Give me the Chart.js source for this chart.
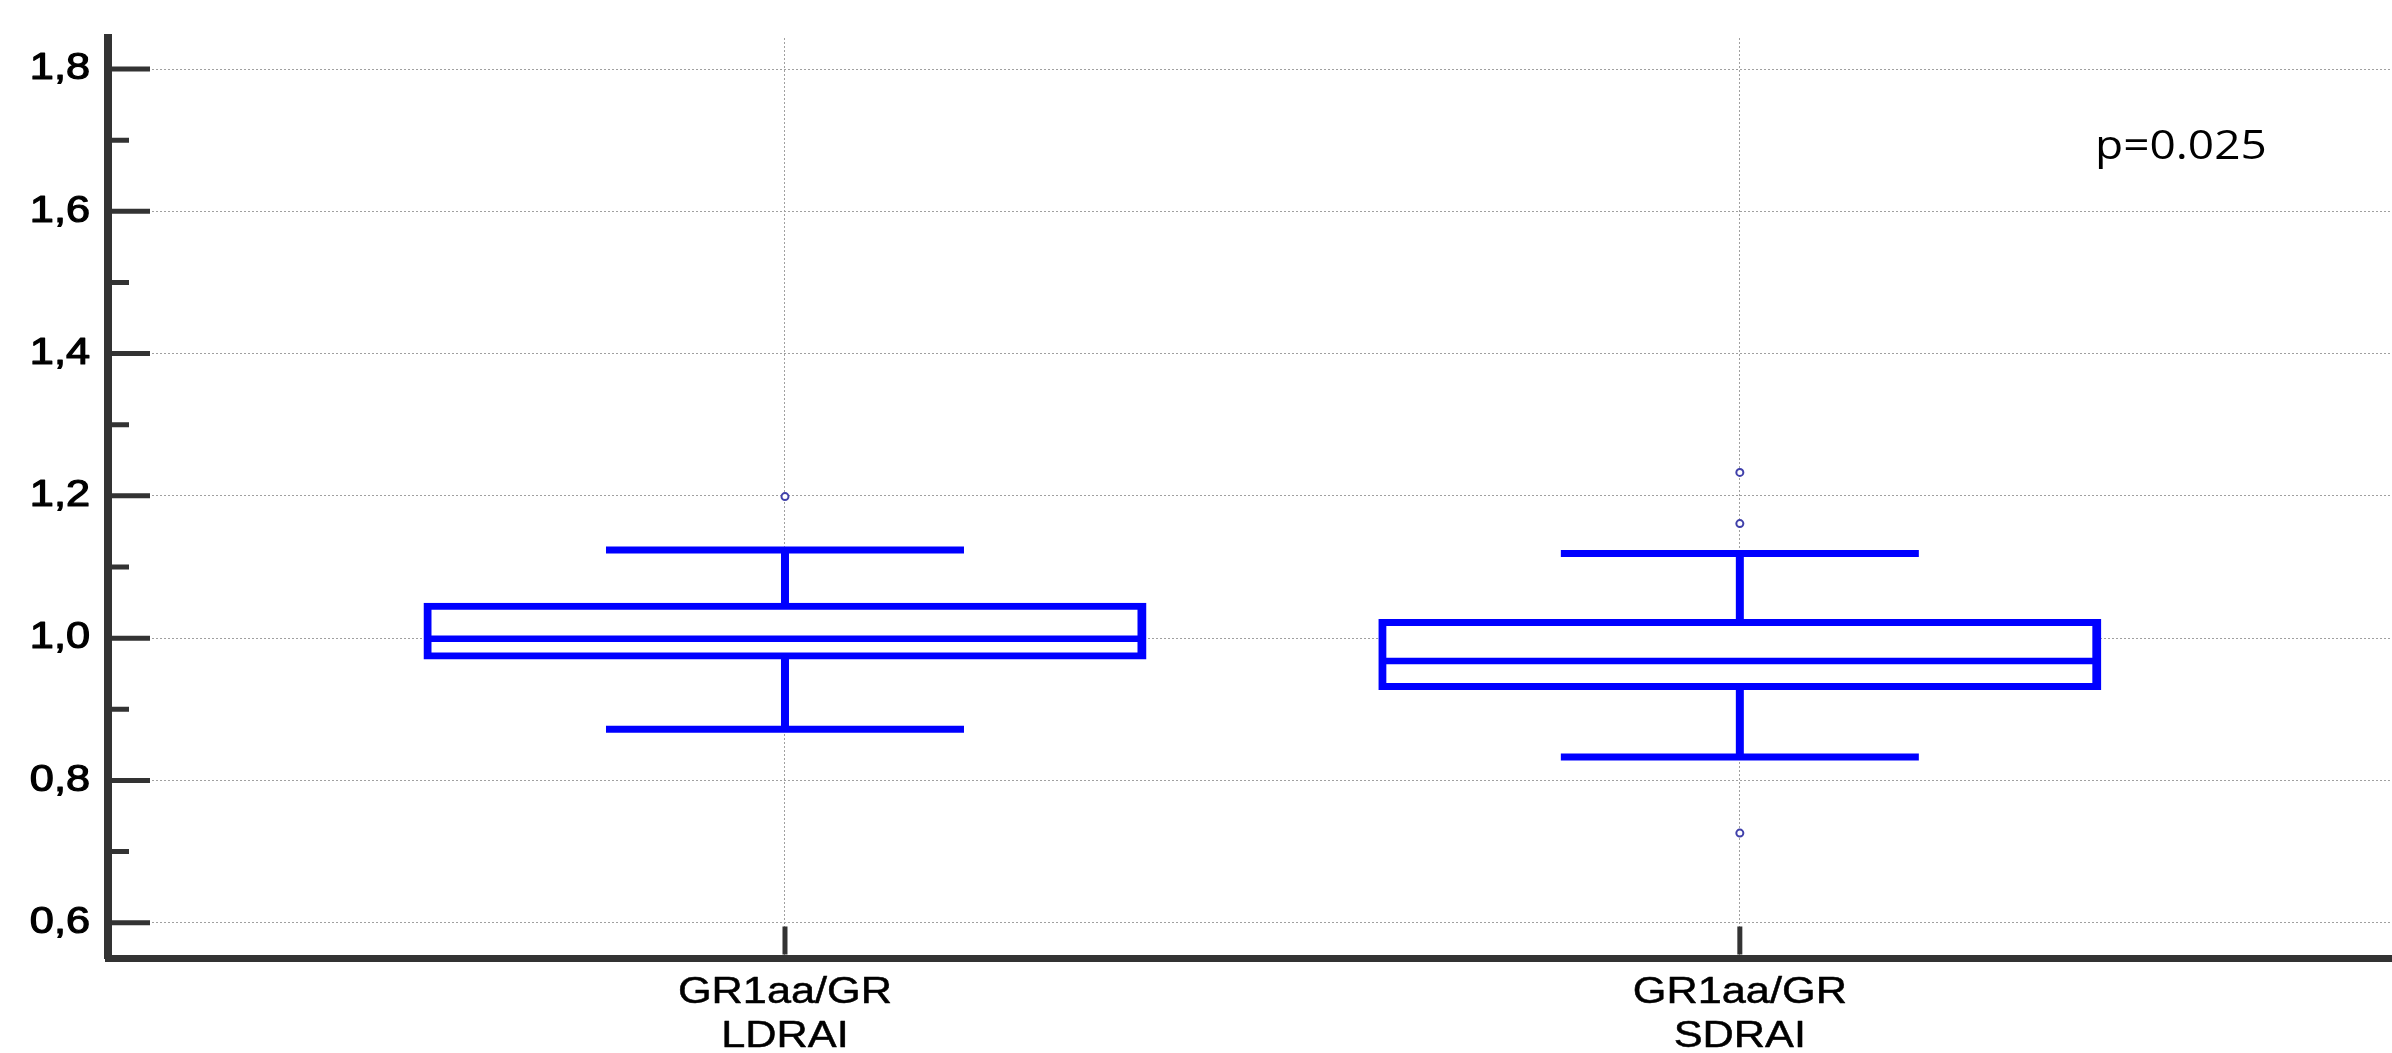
<!DOCTYPE html>
<html>
<head>
<meta charset="utf-8">
<script src="https://cdn.jsdelivr.net/npm/chart.js@4.4.1/dist/chart.umd.min.js"></script>
<style>
  html, body { margin: 0; padding: 0; background: #fff; overflow: hidden; }
  canvas { display: block; }
</style>
</head>
<body>
<canvas id="chart" width="2392" height="1053" style="width:2392px;height:1053px"></canvas>
<script>
// Box-plot summary for each group
const categories = [['GR1aa/GR', 'LDRAI'], ['GR1aa/GR', 'SDRAI']];
const whiskerLow = [0.872, 0.833];
const quartile1 = [0.975, 0.932];
const medians = [0.999, 0.968];
const quartile3 = [1.045, 1.022];
const whiskerHigh = [1.124, 1.119];
const outliers = [[1.199], [1.233, 1.161, 0.726]];

// Value axis
const yTicks = [0.6, 0.8, 1.0, 1.2, 1.4, 1.6, 1.8];
const yTickLabels = ['0,6', '0,8', '1,0', '1,2', '1,4', '1,6', '1,8'];
const yMinorTicks = [0.7, 0.9, 1.1, 1.3, 1.5, 1.7];

const pValueLabel = 'p=0.025';

const BLUE = '#0000ff';
const AXIS = '#333333';
const GRID = '#a0a0a0';

const groupIndex = categories.map((_, i) => i);
const boxData = groupIndex.map(i => ({ x: i, y: [quartile1[i], quartile3[i]] }));
const stemData = groupIndex.map(i => ({ x: i, y: [whiskerLow[i], whiskerHigh[i]] }));
const capData = groupIndex.flatMap(i => [{ x: i, y: whiskerLow[i] }, { x: i, y: whiskerHigh[i] }]);
const medianData = groupIndex.map(i => ({ x: i, y: medians[i] }));
const outlierData = groupIndex.flatMap(i => outliers[i].map(v => ({ x: i, y: v })));

// Tick marks that point into the plot area
const innerTicks = {
  id: 'innerTicks',
  afterDraw(chart, args, opts) {
    const { ctx, chartArea, scales: { x, y } } = chart;
    ctx.save();
    ctx.strokeStyle = opts.color;
    ctx.lineCap = 'butt';
    ctx.lineWidth = opts.width;
    const left = chartArea.left + opts.yAxisHalf;
    ctx.beginPath();
    yTicks.forEach(v => {
      const py = y.getPixelForValue(v);
      ctx.moveTo(left, py); ctx.lineTo(left + opts.majorLength, py);
    });
    yMinorTicks.forEach(v => {
      const py = y.getPixelForValue(v);
      ctx.moveTo(left, py); ctx.lineTo(left + opts.minorLength, py);
    });
    const base = chartArea.bottom - opts.xAxisHalf;
    groupIndex.forEach(i => {
      const px = x.getPixelForValue(i);
      ctx.moveTo(px, base); ctx.lineTo(px, base - opts.xLength);
    });
    ctx.stroke();
    ctx.restore();
  }
};

// Axis labels in a slightly widened face, placed on the scale positions
function drawWide(ctx, text, px, py, stretch, weight) {
  ctx.save();
  ctx.translate(px, py);
  ctx.scale(stretch, 1);
  ctx.fillText(text, 0, 0);
  if (weight > 0) {
    ctx.lineWidth = weight;
    ctx.strokeText(text, 0, 0);
  }
  ctx.restore();
}

const axisLabels = {
  id: 'axisLabels',
  afterDraw(chart, args, opts) {
    const { ctx, chartArea, scales: { x, y } } = chart;
    ctx.save();
    ctx.fillStyle = '#000';
    ctx.strokeStyle = '#000';
    ctx.lineJoin = 'round';
    ctx.font = opts.font;
    ctx.textAlign = 'right';
    ctx.textBaseline = 'middle';
    yTicks.forEach((v, i) => {
      drawWide(ctx, yTickLabels[i], chartArea.left - opts.yGap, y.getPixelForValue(v), opts.stretch, opts.yWeight);
    });
    ctx.textAlign = 'center';
    ctx.textBaseline = 'alphabetic';
    groupIndex.forEach(i => {
      categories[i].forEach((line, k) => {
        drawWide(ctx, line, x.getPixelForValue(i),
          chartArea.bottom + opts.xFirstBaseline + k * opts.xLineStep, opts.stretch, opts.xWeight);
      });
    });
    // p-value note in the upper right
    ctx.font = opts.noteFont;
    ctx.textAlign = 'left';
    drawWide(ctx, pValueLabel, x.getPixelForValue(opts.noteX), y.getPixelForValue(opts.noteY), opts.noteStretch, 0);
    ctx.restore();
  }
};

Chart.defaults.font.family = '"Liberation Sans", Arial, sans-serif';
Chart.defaults.color = '#000';

new Chart(document.getElementById('chart'), {
  type: 'bar',
  data: {
    datasets: [
      {
        type: 'scatter', label: 'median', data: medianData, order: 0,
        pointStyle: 'line', pointRadius: 358, pointBorderWidth: 6.5,
        pointBorderColor: BLUE, pointBackgroundColor: BLUE
      },
      {
        type: 'scatter', label: 'outliers', data: outlierData, order: 0,
        pointStyle: 'circle', pointRadius: 3.5, pointBorderWidth: 2,
        pointBorderColor: '#4040aa', pointBackgroundColor: '#ffffff'
      },
      {
        type: 'scatter', label: 'whisker caps', data: capData, order: 1,
        pointStyle: 'line', pointRadius: 179, pointBorderWidth: 7,
        pointBorderColor: BLUE, pointBackgroundColor: BLUE
      },
      {
        type: 'bar', label: 'box', data: boxData, order: 2, grouped: false,
        barThickness: 716, borderWidth: { top: 7, bottom: 7, left: 8, right: 9 },
        borderSkipped: false, inflateAmount: 3.5,
        borderColor: BLUE, backgroundColor: '#ffffff'
      },
      {
        type: 'bar', label: 'whisker', data: stemData, order: 3, grouped: false,
        barThickness: 8, borderWidth: 0, inflateAmount: 0,
        backgroundColor: BLUE
      }
    ]
  },
  options: {
    responsive: false,
    animation: false,
    events: [],
    layout: { autoPadding: false, padding: { left: 108, top: 38, right: 0, bottom: 95 } },
    plugins: {
      legend: { display: false },
      tooltip: { enabled: false },
      innerTicks: { color: AXIS, width: 5, majorLength: 38, minorLength: 17, xLength: 28, yAxisHalf: 4, xAxisHalf: 3.5 },
      axisLabels: {
        font: '37px "Liberation Sans", Arial, sans-serif', stretch: 1.17, yWeight: 1.2, xWeight: 0.5,
        yGap: 18, xFirstBaseline: 45, xLineStep: 44,
        noteFont: '40px "Open Sans", sans-serif', noteStretch: 1.15, noteX: 1.372, noteY: 1.674
      }
    },
    scales: {
      x: {
        type: 'linear', offset: false,
        min: -0.709, max: 1.683,
        afterBuildTicks: s => { s.ticks = groupIndex.map(v => ({ value: v })); },
        ticks: { display: false },
        grid: { offset: false, drawTicks: false, color: GRID, lineWidth: 1 },
        border: { display: true, color: AXIS, width: 7, dash: [2, 2] }
      },
      y: {
        type: 'linear',
        min: 0.5504, max: 1.8436,
        afterBuildTicks: s => { s.ticks = yTicks.map(v => ({ value: v })); },
        ticks: { display: false },
        grid: { drawTicks: false, color: GRID, lineWidth: 1 },
        border: { display: true, color: AXIS, width: 8, dash: [2, 2] }
      }
    }
  },
  plugins: [innerTicks, axisLabels]
});
</script>
</body>
</html>
